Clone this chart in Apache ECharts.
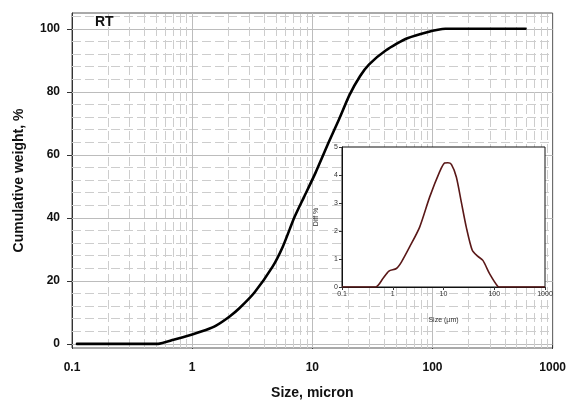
<!DOCTYPE html>
<html><head><meta charset="utf-8">
<script src="https://cdn.jsdelivr.net/npm/echarts@6/dist/echarts.min.js"></script>
<style>html,body{margin:0;padding:0;background:#fff}#c{width:569px;height:405px}</style>
</head><body><div id="c"></div>
<script>
// Main cumulative curve (size in micron, cumulative weight %)
const mainSize = [0.11, 0.52, 0.7, 1.0, 1.3, 1.58, 2.05, 2.47, 3.3, 4.67, 5.7, 7.08, 8.5, 10.6, 13.8, 16.7, 20.4, 25, 29.7, 40.8, 61.8, 128, 594];
const mainCum  = [0, 0, 1.3, 3.0, 4.4, 5.8, 8.7, 11.3, 16.3, 24.5, 31.0, 40.1, 46.5, 54.2, 64.3, 71.3, 79, 85.0, 88.7, 93.1, 97.0, 100, 100];
// Inset differential curve (size in µm, diff %)
const insetSize = [0.1, 0.46, 0.64, 0.84, 1.18, 1.48, 2.15, 3.39, 5.33, 8.37, 10.5, 12.2, 14.3, 17.9, 22.4, 28.1, 36.9, 47, 59.7, 80.7, 118, 136, 1000];
const insetDiff = [0, 0, 0.30, 0.57, 0.66, 0.89, 1.43, 2.14, 3.21, 4.11, 4.43, 4.44, 4.38, 3.93, 3.04, 2.14, 1.31, 1.10, 0.95, 0.48, 0.02, 0, 0];
// Tick labels
const xTickLabels = ['0.1', '1', '10', '100', '1000'];
const yTickValues = [0, 20, 40, 60, 80, 100];
const insetYTicks = [0, 1, 2, 3, 4, 5];

const FONT = '"Liberation Sans", Arial, sans-serif';
const chart = echarts.init(document.getElementById('c'), null, {renderer: 'canvas'});

function fmtX(v) {
  const i = Math.round(Math.log10(v)) + 1;
  return xTickLabels[i] !== undefined ? xTickLabels[i] : '';
}

const hLines = [];
for (let v = 0; v <= 104; v += 4) {
  const major = v % 20 === 0;
  hLines.push({yAxis: v, lineStyle: {color: major ? '#bcbcbc' : '#cdcdcd', type: major ? 'solid' : [9, 4], width: 1}});
}
const vLines = [];
[0.1, 1, 10, 100].forEach(d => {
  for (let k = 1; k <= 9; k++) {
    const v = +(d * k).toPrecision(3);
    if (v === 0.1) continue;
    vLines.push({xAxis: v, lineStyle: {color: k === 1 ? '#bcbcbc' : '#cdcdcd', type: k === 1 ? 'solid' : [9, 4], width: 1}});
  }
});

const option = {
  animation: false,
  backgroundColor: '#fff',
  graphic: [{
    type: 'text', left: 95, top: 15, z: 20,
    style: {text: 'RT', font: 'bold 14px ' + FONT, fill: '#111'}
  }],
  grid: [
    {left: 72, right: 16, top: 13, bottom: 53, show: true, borderColor: '#555', borderWidth: 1, z: 0},
    {left: 342, right: 24, top: 147, bottom: 118, show: true, backgroundColor: '#fff', borderColor: '#111', borderWidth: 1, z: 8}
  ],
  xAxis: [
    {
      type: 'log', logBase: 10, gridIndex: 0, min: 0.1, max: 1000,
      splitLine: {show: false}, minorTick: {show: false}, minorSplitLine: {show: false},
      axisLine: {show: true, lineStyle: {color: '#333', width: 1}},
      axisTick: {show: true, length: 5, lineStyle: {color: '#333'}},
      axisLabel: {formatter: fmtX, margin: 14, fontSize: 12, fontWeight: 'bold', color: '#111', fontFamily: FONT},
      name: 'Size, micron', nameLocation: 'middle', nameGap: 38,
      nameTextStyle: {fontSize: 14, fontWeight: 'bold', color: '#111', fontFamily: FONT}
    },
    {
      type: 'log', logBase: 10, gridIndex: 1, min: 0.1, max: 1000, z: 9,
      splitLine: {show: false}, minorTick: {show: false},
      axisLine: {show: true, lineStyle: {color: '#111', width: 1}},
      axisTick: {show: true, length: 3, lineStyle: {color: '#333'}},
      axisLabel: {formatter: fmtX, margin: 4, fontSize: 7, color: '#333', fontFamily: FONT},
      name: 'Size (µm)', nameLocation: 'middle', nameGap: 30,
      nameTextStyle: {fontSize: 7, color: '#333', fontFamily: FONT}
    }
  ],
  yAxis: [
    {
      type: 'value', gridIndex: 0, min: -1.3, max: 105,
      splitLine: {show: false},
      axisLine: {show: true, lineStyle: {color: '#333', width: 1}},
      axisTick: {show: true, length: 5, customValues: yTickValues, lineStyle: {color: '#333'}},
      axisLabel: {customValues: yTickValues, margin: 12, fontSize: 12, fontWeight: 'bold', color: '#111', fontFamily: FONT},
      name: 'Cumulative weight, %', nameLocation: 'middle', nameGap: 46, nameRotate: 90,
      nameTextStyle: {fontSize: 14, fontWeight: 'bold', color: '#111', fontFamily: FONT}
    },
    {
      type: 'value', gridIndex: 1, min: 0, max: 5, interval: 1, z: 9,
      splitLine: {show: false},
      axisLine: {show: true, lineStyle: {color: '#111', width: 1}},
      axisTick: {show: true, length: 3, lineStyle: {color: '#333'}},
      axisLabel: {margin: 4, fontSize: 7, color: '#333', fontFamily: FONT},
      name: 'Diff %', nameLocation: 'middle', nameGap: 22, nameRotate: 90,
      nameTextStyle: {fontSize: 7, color: '#333', fontFamily: FONT}
    }
  ],
  series: [
    {
      type: 'line', xAxisIndex: 0, yAxisIndex: 0, z: 1, silent: true,
      data: mainSize.map((x, i) => [x, mainCum[i]]),
      symbol: 'none', lineStyle: {opacity: 0},
      markLine: {silent: true, z: 1, symbol: ['none', 'none'], label: {show: false}, animation: false,
        data: hLines.concat(vLines)}
    },
    {
      type: 'line', xAxisIndex: 0, yAxisIndex: 0, z: 7,
      data: mainSize.map((x, i) => [x, mainCum[i]]),
      symbol: 'none', smooth: 0.2,
      lineStyle: {color: '#000', width: 2.6, type: 'solid', cap: 'round', join: 'round'}
    },
    {
      type: 'line', xAxisIndex: 1, yAxisIndex: 1, z: 10,
      data: insetSize.map((x, i) => [x, insetDiff[i]]),
      symbol: 'none', smooth: 0.25, lineStyle: {color: '#5a1818', width: 1.6}
    }
  ]
};
chart.setOption(option);
</script>
</body></html>
